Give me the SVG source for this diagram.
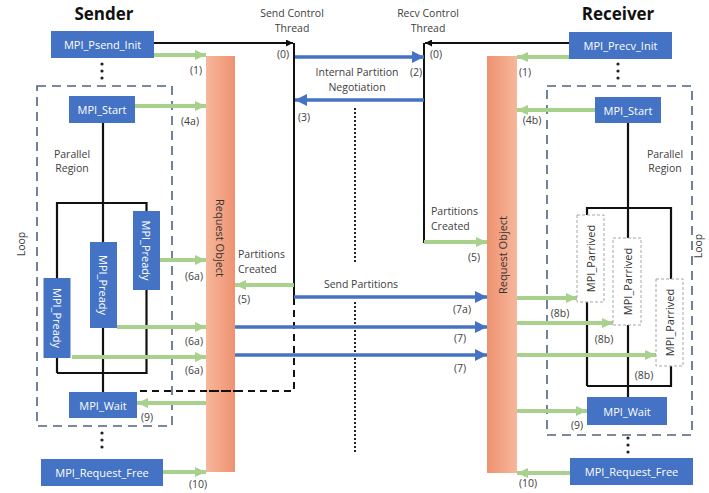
<svg xmlns="http://www.w3.org/2000/svg" width="709" height="493" viewBox="0 0 709 493">
  <defs>
    <style>
      text { font-family: "Open Sans", "Noto Sans", "Liberation Sans", sans-serif; }
      .title { font-size: 17px; font-weight: bold; fill: #111; text-anchor: middle; }
      .lbl { font-size: 10.5px; fill: #404040; }
      .c { text-anchor: middle; }
      .box { fill: #4472C4; }
      .btxt { font-size: 11px; fill: #fff; text-anchor: middle; dominant-baseline: central; }
      .pbox { fill: #fff; stroke: #A6A6A6; stroke-width: 1; stroke-dasharray: 3 2; }
      .ptxt { font-size: 11px; fill: #333; text-anchor: middle; dominant-baseline: central; }
      .rtxt { font-size: 11px; fill: #333; text-anchor: middle; dominant-baseline: central; }
      .loop { fill: none; stroke: #4F6382; stroke-width: 1.6; stroke-dasharray: 9 6; }
      .tree { fill: none; stroke: #111; stroke-width: 2.2; }
      .g { stroke: #A9D18E; stroke-width: 3.8; fill: none; marker-end: url(#ag); }
      .b { stroke: #4472C4; stroke-width: 3.6; fill: none; marker-end: url(#ab); }
      .k { stroke: #111; stroke-width: 2; fill: none; }
      .ka { marker-end: url(#ak); }
      .kd { stroke-dasharray: 7 5; }
      .dot { stroke: #222; stroke-width: 2; stroke-dasharray: 2 2; fill: none; }
      .vd { fill: #222; }
    </style>
    <marker id="ag" markerUnits="userSpaceOnUse" markerWidth="11" markerHeight="10" refX="11" refY="5" orient="auto">
      <path d="M0,0 L11,5 L0,10 z" fill="#A9D18E"/>
    </marker>
    <marker id="ab" markerUnits="userSpaceOnUse" markerWidth="12" markerHeight="12" refX="12" refY="6" orient="auto">
      <path d="M0,0 L12,6 L0,12 z" fill="#4472C4"/>
    </marker>
    <marker id="ak" markerUnits="userSpaceOnUse" markerWidth="7" markerHeight="7" refX="7" refY="3.5" orient="auto">
      <path d="M0,0 L7,3.5 L0,7 z" fill="#111"/>
    </marker>
    <linearGradient id="barL" x1="0" y1="0" x2="1" y2="0">
      <stop offset="0" stop-color="#F6B79B"/>
      <stop offset="1" stop-color="#EF9270"/>
    </linearGradient>
    <linearGradient id="barR" x1="0" y1="0" x2="1" y2="0">
      <stop offset="0" stop-color="#EF9270"/>
      <stop offset="1" stop-color="#F6B79B"/>
    </linearGradient>
  </defs>

  <rect width="709" height="493" fill="#fff"/>

  <!-- headings -->
  <text class="title" x="104" y="20">Sender</text>
  <text class="title" x="618" y="20">Receiver</text>
  <text class="lbl c" x="292" y="17">Send Control</text>
  <text class="lbl c" x="292" y="32">Thread</text>
  <text class="lbl c" x="428" y="17">Recv Control</text>
  <text class="lbl c" x="428" y="32">Thread</text>

  <!-- loop frames -->
  <g id="loop-send">
    <rect class="loop" x="37" y="86" width="135" height="340"/>
    <text class="lbl c" transform="translate(25,244) rotate(-90)">Loop</text>
    <text class="lbl c" x="72" y="158">Parallel</text>
    <text class="lbl c" x="72" y="172">Region</text>
  </g>
  <g id="loop-recv">
    <rect class="loop" x="547" y="86" width="145" height="349"/>
    <text class="lbl c" transform="translate(702,246) rotate(-90)">Loop</text>
    <text class="lbl c" x="665" y="158">Parallel</text>
    <text class="lbl c" x="665" y="172">Region</text>
  </g>

  <!-- request objects -->
  <g id="req-send">
    <rect x="206" y="56" width="29" height="416" fill="url(#barL)"/>
    <text class="rtxt" transform="translate(220.5,238) rotate(90)">Request Object</text>
  </g>
  <g id="req-recv">
    <rect x="487" y="56" width="30" height="417" fill="url(#barR)"/>
    <text class="rtxt" transform="translate(502,255) rotate(-90)">Request Object</text>
  </g>

  <!-- connectors -->
  <g id="connectors">
    <!-- thread structure -->
    <path class="tree" d="M103,123 V392 M57,373 V203 H146.5 V373 H57"/>
    <path class="tree" d="M628,123 V397 M587,386 V208 H671 V386 H587"/>
    <path class="k ka" d="M154,43 H293"/>
    <path class="k ka" d="M569,43 H425"/>
    <path class="k" d="M294,43 V298"/>
    <path class="k" d="M424,43 V243"/>
    <path class="k kd" d="M294,298 V391 H137"/>
    <path class="dot" d="M355,108 V264 M355,302 V452"/>

    <!-- sender side -->
    <path class="g" d="M154,55 H206"/>
    <path class="g" d="M135,106 H206"/>
    <path class="g" d="M160,260 H206"/>
    <path class="g" d="M117,327 H206"/>
    <path class="g" d="M72,357 H206"/>
    <path class="g" d="M206,403 H137"/>
    <path class="g" d="M163,472 H206"/>
    <path class="g" d="M294,285 H235"/>

    <!-- receiver side -->
    <path class="g" d="M569,57 H517"/>
    <path class="g" d="M595,110 H517"/>
    <path class="g" d="M424,242 H487"/>
    <path class="g" d="M517,298 H577"/>
    <path class="g" d="M517,323 H613"/>
    <path class="g" d="M517,355 H656"/>
    <path class="g" d="M517,411 H587"/>
    <path class="g" d="M570,473 H517"/>

    <!-- control thread traffic -->
    <path class="b" d="M295,57 H424"/>
    <path class="b" d="M424,100 H295"/>
    <path class="b" d="M294,297 H487"/>
    <path class="b" d="M235,327 H487"/>
    <path class="b" d="M235,355 H487"/>

    <!-- ellipses -->
    <circle class="vd" cx="102" cy="64" r="1.6"/><circle class="vd" cx="102" cy="71" r="1.6"/><circle class="vd" cx="102" cy="78" r="1.6"/>
    <circle class="vd" cx="102" cy="433" r="1.6"/><circle class="vd" cx="102" cy="440" r="1.6"/><circle class="vd" cx="102" cy="447" r="1.6"/>
    <circle class="vd" cx="618" cy="64" r="1.6"/><circle class="vd" cx="618" cy="71" r="1.6"/><circle class="vd" cx="618" cy="78" r="1.6"/>
    <circle class="vd" cx="628" cy="438" r="1.6"/><circle class="vd" cx="628" cy="445" r="1.6"/><circle class="vd" cx="628" cy="452" r="1.6"/>

    <!-- labels -->
    <text class="lbl c" x="196" y="74">(1)</text>
    <text class="lbl c" x="190" y="125">(4a)</text>
    <text class="lbl c" x="194" y="280">(6a)</text>
    <text class="lbl c" x="194" y="345">(6a)</text>
    <text class="lbl c" x="194" y="374">(6a)</text>
    <text class="lbl c" x="147" y="421">(9)</text>
    <text class="lbl c" x="198" y="488">(10)</text>
    <text class="lbl c" x="283" y="58">(0)</text>
    <text class="lbl c" x="436" y="58">(0)</text>
    <text class="lbl c" x="416" y="76">(2)</text>
    <text class="lbl c" x="357" y="76">Internal Partition</text>
    <text class="lbl c" x="357" y="91">Negotiation</text>
    <text class="lbl c" x="304" y="121">(3)</text>
    <text class="lbl" x="238" y="258">Partitions</text>
    <text class="lbl" x="238" y="273">Created</text>
    <text class="lbl c" x="244" y="303">(5)</text>
    <text class="lbl c" x="361" y="288">Send Partitions</text>
    <text class="lbl c" x="462" y="313">(7a)</text>
    <text class="lbl c" x="460" y="342">(7)</text>
    <text class="lbl c" x="460" y="372">(7)</text>
    <text class="lbl" x="431" y="215">Partitions</text>
    <text class="lbl" x="431" y="230">Created</text>
    <text class="lbl c" x="474" y="261">(5)</text>
    <text class="lbl c" x="525" y="76">(1)</text>
    <text class="lbl c" x="532" y="124">(4b)</text>
    <text class="lbl c" x="560" y="317">(8b)</text>
    <text class="lbl c" x="604" y="343">(8b)</text>
    <text class="lbl c" x="644" y="379">(8b)</text>
    <text class="lbl c" x="577" y="429">(9)</text>
    <text class="lbl c" x="528" y="487">(10)</text>
  </g>

  <!-- sender calls -->
  <g id="psend-init"><rect class="box" x="51" y="31" width="103" height="27"/><text class="btxt" x="102.5" y="44.5">MPI_Psend_Init</text></g>
  <g id="start-send"><rect class="box" x="69" y="96" width="66" height="27"/><text class="btxt" x="102" y="109.5">MPI_Start</text></g>
  <g id="pready-3"><rect class="box" x="133" y="211" width="27" height="79"/><text class="btxt" transform="translate(146.5,250.5) rotate(90)">MPI_Pready</text></g>
  <g id="pready-2"><rect class="box" x="90" y="242" width="27" height="86"/><text class="btxt" transform="translate(103.5,285) rotate(90)">MPI_Pready</text></g>
  <g id="pready-1"><rect class="box" x="43.5" y="278" width="27" height="80"/><text class="btxt" transform="translate(57,318) rotate(90)">MPI_Pready</text></g>
  <g id="wait-send"><rect class="box" x="69" y="392" width="68" height="26"/><text class="btxt" x="103" y="405">MPI_Wait</text></g>
  <g id="free-send"><rect class="box" x="41" y="459" width="122" height="27"/><text class="btxt" x="102" y="472.5">MPI_Request_Free</text></g>

  <!-- receiver calls -->
  <g id="precv-init"><rect class="box" x="569" y="32" width="103" height="27"/><text class="btxt" x="620.5" y="45.5">MPI_Precv_Init</text></g>
  <g id="start-recv"><rect class="box" x="595" y="97" width="66" height="26"/><text class="btxt" x="628" y="110">MPI_Start</text></g>
  <g id="parrived-1"><rect class="pbox" x="577" y="215" width="27" height="87"/><text class="ptxt" transform="translate(590.5,258.5) rotate(-90)">MPI_Parrived</text></g>
  <g id="parrived-2"><rect class="pbox" x="613" y="238" width="28" height="87"/><text class="ptxt" transform="translate(627,281.5) rotate(-90)">MPI_Parrived</text></g>
  <g id="parrived-3"><rect class="pbox" x="656" y="279" width="27" height="87"/><text class="ptxt" transform="translate(669.5,322.5) rotate(-90)">MPI_Parrived</text></g>
  <g id="wait-recv"><rect class="box" x="587" y="397" width="80" height="28"/><text class="btxt" x="627" y="411">MPI_Wait</text></g>
  <g id="free-recv"><rect class="box" x="570" y="458" width="123" height="27"/><text class="btxt" x="631.5" y="471.5">MPI_Request_Free</text></g>

  <!-- dashed wait line drawn over the request object -->
  <path class="k kd" d="M240,391 H200"/>
</svg>
